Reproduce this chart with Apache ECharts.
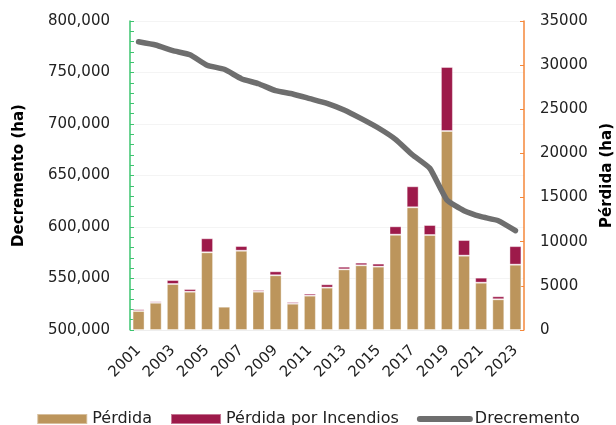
<!DOCTYPE html>
<html lang="es">
<head>
  <meta charset="UTF-8">
  <title>Pérdida y decremento</title>
  <style>
    html, body {
      margin: 0;
      padding: 0;
      width: 100%;
      height: 100%;
      background: #fff;
    }
    .main {
      width: 616px;
      height: 425px;
    }
  </style>
</head>
<body>
<div class="main" id="main"></div>
<script src="https://cdn.jsdelivr.net/npm/echarts@6/dist/echarts.min.js"></script>
<script>
var years = ['2001', '2002', '2003', '2004', '2005', '2006', '2007', '2008', '2009', '2010', '2011', '2012',
  '2013', '2014', '2015', '2016', '2017', '2018', '2019', '2020', '2021', '2022', '2023'];

// Pérdida (ha), eje derecho
var perdida = [2150, 3090, 5210, 4340, 8800, 2640, 8980, 4340, 6200, 2980, 3890, 4800,
  6870, 7330, 7180, 10800, 13900, 10760, 22540, 8420, 5360, 3480, 7400];

// Pérdida por incendios (ha), apilada
var incendios = [200, 160, 450, 300, 1590, 110, 530, 190, 450, 190, 230, 380,
  300, 300, 340, 945, 2380, 1130, 7250, 1770, 570, 340, 2100];

// Decremento (ha), eje izquierdo
var decremento = [779900, 776700, 771200, 767300, 757000, 753100, 744000, 739100, 732300, 729100, 724600, 720100,
  713600, 705200, 696100, 685100, 669900, 657000, 626200, 615800, 610000, 606100, 596400];

var fontFamily = '"DejaVu Sans", sans-serif';

var chart = echarts.init(document.getElementById('main'));

var option = {
  textStyle: { fontFamily: fontFamily },
  grid: { left: 130, right: 92, top: 21, bottom: 95, outerBoundsMode: 'none' },
  legend: {
    top: 406,
    left: 'center',
    itemWidth: 50,
    itemHeight: 10,
    itemGap: 18,
    textStyle: { fontSize: 16, color: '#222', fontFamily: fontFamily },
    data: [
      { name: 'Pérdida', icon: 'rect' },
      { name: 'Pérdida por Incendios', icon: 'rect' },
      {
        name: 'Drecremento',
        itemStyle: { color: 'rgba(0,0,0,0)', borderColor: 'rgba(0,0,0,0)', borderWidth: 0 },
        lineStyle: { color: '#6e6e6e', width: 6, cap: 'round' }
      }
    ]
  },
  xAxis: {
    type: 'category',
    data: years,
    axisLine: { lineStyle: { color: '#eeeeee' } },
    axisTick: { show: false },
    axisLabel: {
      interval: 1,
      rotate: 45,
      margin: 18,
      fontSize: 15,
      color: '#222'
    }
  },
  yAxis: [
    {
      type: 'value',
      name: 'Decremento (ha)',
      nameLocation: 'middle',
      nameGap: 103,
      nameRotate: 90,
      nameTextStyle: { fontSize: 15, fontWeight: 'bold', color: '#000' },
      min: 500000,
      max: 800000,
      interval: 50000,
      axisLine: { show: true, lineStyle: { color: '#3cc46f', width: 1.5 } },
      axisTick: { show: true, inside: true, length: 4, lineStyle: { color: '#3cc46f' } },
      minorTick: { show: true, splitNumber: 5, length: 4, lineStyle: { color: '#3cc46f' } },
      splitLine: { show: true, lineStyle: { color: '#f4f4f4' } },
      axisLabel: {
        margin: 20,
        fontSize: 15,
        color: '#222',
        formatter: function (v) { return v.toLocaleString('en-US'); }
      }
    },
    {
      type: 'value',
      name: 'Pérdida (ha)',
      nameLocation: 'middle',
      nameGap: 76,
      nameRotate: 90,
      nameTextStyle: { fontSize: 15, fontWeight: 'bold', color: '#000' },
      min: 0,
      max: 35000,
      interval: 5000,
      axisLine: { show: true, lineStyle: { color: '#f5873a', width: 1.5 } },
      axisTick: { show: true, inside: true, length: 4, lineStyle: { color: '#f5873a' } },
      splitLine: { show: false },
      axisLabel: {
        margin: 16,
        fontSize: 15,
        color: '#222',
        formatter: function (v) { return String(v); }
      }
    }
  ],
  series: [
    {
      name: 'Pérdida',
      type: 'bar',
      yAxisIndex: 1,
      stack: 'p',
      barCategoryGap: '30%',
      itemStyle: { color: '#bc955c', borderColor: 'rgba(255,255,255,0.4)', borderWidth: 1 },
      data: perdida
    },
    {
      name: 'Pérdida por Incendios',
      type: 'bar',
      yAxisIndex: 1,
      stack: 'p',
      itemStyle: { color: '#9d1a4a', borderColor: 'rgba(255,255,255,0.4)', borderWidth: 1 },
      data: incendios
    },
    {
      name: 'Drecremento',
      type: 'line',
      yAxisIndex: 0,
      symbol: 'none',
      smooth: 0.15,
      lineStyle: { color: '#6e6e6e', width: 5.5, cap: 'round', join: 'round' },
      itemStyle: { color: '#6e6e6e' },
      data: decremento
    }
  ]
};

chart.setOption(option);
</script>
</body>
</html>
